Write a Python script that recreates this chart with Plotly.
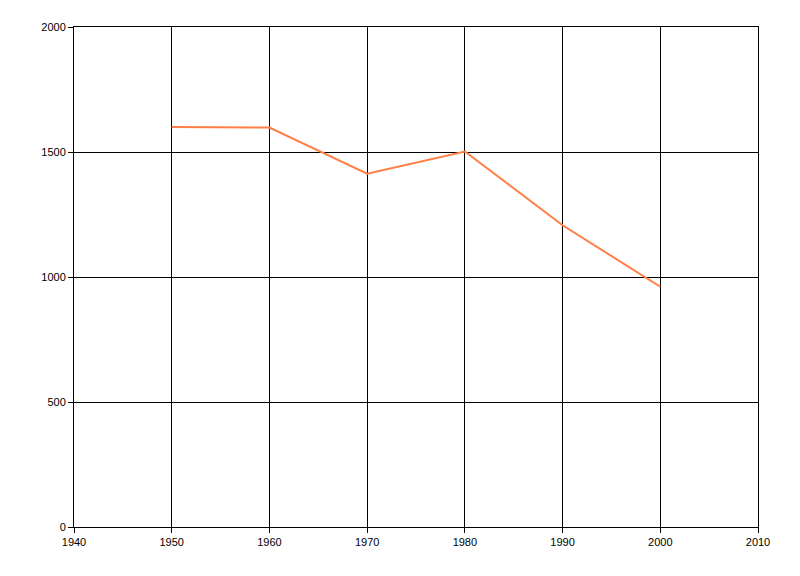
import plotly.graph_objects as go

years = [1950, 1955, 1960, 1970, 1980, 1990, 2000]
values = [1600, 1599, 1598, 1413, 1502, 1207, 961]

fig = go.Figure()
fig.add_trace(go.Scatter(x=years, y=values, mode="lines",
                         line=dict(color="#FF7F45", width=2), showlegend=False))

axis_common = dict(showline=True, linecolor="black", linewidth=1, mirror=True,
                   showgrid=True, gridcolor="black", gridwidth=1,
                   ticks="outside", ticklen=5, tickcolor="black",
                   zeroline=False, tickfont=dict(family="Liberation Sans, Arial, sans-serif", size=11, color="black"))

fig.update_layout(
    width=800, height=576,
    margin=dict(l=66, r=50, t=19, b=57),
    paper_bgcolor="white", plot_bgcolor="white",
    xaxis=dict(range=[1940, 2010], tickvals=[1940, 1950, 1960, 1970, 1980, 1990, 2000, 2010], **axis_common),
    yaxis=dict(range=[0, 2000], tickvals=[0, 500, 1000, 1500, 2000], **axis_common),
)
fig.write_html("out.html")
